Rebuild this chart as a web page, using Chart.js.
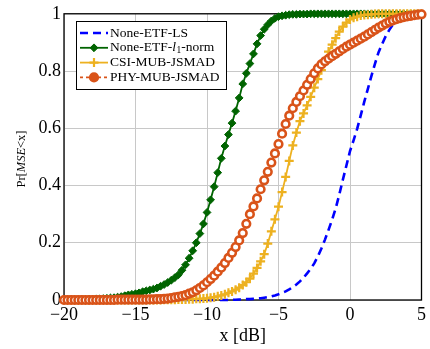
<!DOCTYPE html>
<html>
<head>
<meta charset="utf-8">
<script src="https://cdn.jsdelivr.net/npm/chart.js@4.4.1/dist/chart.umd.min.js"></script>
<style>
  html, body { margin: 0; padding: 0; background: #fff; }
  canvas { display: block; }
</style>
</head>
<body>
<canvas id="cdfChart" width="430" height="349"></canvas>
<script>
'use strict'

// x axis samples in dB
var xValues = [
    -20, -19.75, -19.5, -19.25, -19, -18.75, -18.5, -18.25, -18, -17.75,
    -17.5, -17.25, -17, -16.75, -16.5, -16.25, -16, -15.75, -15.5, -15.25,
    -15, -14.75, -14.5, -14.25, -14, -13.75, -13.5, -13.25, -13, -12.75,
    -12.5, -12.25, -12, -11.75, -11.5, -11.25, -11, -10.75, -10.5, -10.25,
    -10, -9.75, -9.5, -9.25, -9, -8.75, -8.5, -8.25, -8, -7.75,
    -7.5, -7.25, -7, -6.75, -6.5, -6.25, -6, -5.75, -5.5, -5.25,
    -5, -4.75, -4.5, -4.25, -4, -3.75, -3.5, -3.25, -3, -2.75,
    -2.5, -2.25, -2, -1.75, -1.5, -1.25, -1, -0.75, -0.5, -0.25,
    0, 0.25, 0.5, 0.75, 1, 1.25, 1.5, 1.75, 2, 2.25,
    2.5, 2.75, 3, 3.25, 3.5, 3.75, 4, 4.25, 4.5, 4.75,
    5
];

// None-ETF-LS
var lsValues = [
    0, 0, 0, 0, 0, 0, 0, 0, 0, 0,
    0, 0, 0, 0, 0, 0, 0, 0, 0, 0,
    0, 0, 0, 0, 0, 0, 0, 0, 0, 0,
    0, 0, 0, 0, 0, 0, 0, 0, 0, 0,
    0, 0, 0, 0, 0, 0, 0, 0.001, 0.001, 0.002,
    0.002, 0.003, 0.003, 0.004, 0.005, 0.006, 0.008, 0.010, 0.013, 0.016,
    0.020, 0.025, 0.030, 0.037, 0.045, 0.054, 0.065, 0.078, 0.093, 0.109,
    0.128, 0.152, 0.180, 0.211, 0.245, 0.281, 0.320, 0.368, 0.420, 0.470,
    0.520, 0.558, 0.598, 0.645, 0.693, 0.738, 0.783, 0.826, 0.866, 0.895,
    0.922, 0.944, 0.962, 0.975, 0.985, 0.991, 0.995, 0.997, 0.999, 1,
    1
];

// None-ETF-l1-norm
var l1Values = [
    0, 0, 0.001, 0.001, 0.001, 0.002, 0.002, 0.003, 0.003, 0.004,
    0.004, 0.005, 0.006, 0.007, 0.008, 0.010, 0.012, 0.015, 0.018, 0.020,
    0.022, 0.025, 0.029, 0.032, 0.035, 0.038, 0.042, 0.048, 0.054, 0.061,
    0.069, 0.078, 0.088, 0.104, 0.123, 0.146, 0.172, 0.200, 0.232, 0.266,
    0.306, 0.350, 0.396, 0.445, 0.495, 0.538, 0.578, 0.618, 0.660, 0.706,
    0.755, 0.792, 0.826, 0.860, 0.895, 0.924, 0.946, 0.962, 0.975, 0.984,
    0.990, 0.993, 0.995, 0.997, 0.998, 0.998, 0.999, 0.999, 0.999, 1,
    1, 1, 1, 1, 1, 1, 1, 1, 1, 1,
    1, 1, 1, 1, 1, 1, 1, 1, 1, 1,
    1, 1, 1, 1, 1, 1, 1, 1, 1, 1,
    1
];

// CSI-MUB-JSMAD
var csiValues = [
    0, 0, 0, 0, 0, 0, 0, 0, 0, 0,
    0, 0, 0, 0, 0, 0, 0, 0, 0, 0,
    0, 0, 0, 0, 0, 0, 0, 0, 0.001, 0.001,
    0.001, 0.001, 0.002, 0.002, 0.002, 0.003, 0.003, 0.004, 0.004, 0.005,
    0.006, 0.008, 0.010, 0.013, 0.016, 0.020, 0.025, 0.030, 0.036, 0.043,
    0.052, 0.062, 0.075, 0.092, 0.112, 0.135, 0.160, 0.197, 0.240, 0.282,
    0.326, 0.377, 0.430, 0.486, 0.540, 0.585, 0.625, 0.652, 0.680, 0.710,
    0.742, 0.772, 0.803, 0.838, 0.868, 0.892, 0.915, 0.938, 0.955, 0.969,
    0.980, 0.986, 0.990, 0.994, 0.996, 0.997, 0.998, 0.999, 1, 1,
    1, 1, 1, 1, 1, 1, 1, 1, 1, 1,
    1
];

// PHY-MUB-JSMAD
var phyValues = [
    0, 0, 0, 0, 0, 0, 0, 0, 0, 0,
    0, 0, 0, 0, 0, 0.001, 0.001, 0.001, 0.001, 0.001,
    0.001, 0.001, 0.001, 0.001, 0.002, 0.002, 0.003, 0.003, 0.004, 0.005,
    0.007, 0.009, 0.011, 0.014, 0.017, 0.022, 0.027, 0.034, 0.042, 0.051,
    0.062, 0.073, 0.085, 0.099, 0.113, 0.129, 0.147, 0.165, 0.185, 0.208,
    0.234, 0.266, 0.300, 0.327, 0.355, 0.387, 0.418, 0.448, 0.480, 0.512,
    0.545, 0.581, 0.615, 0.644, 0.670, 0.692, 0.712, 0.732, 0.752, 0.772,
    0.792, 0.809, 0.823, 0.834, 0.843, 0.852, 0.860, 0.869, 0.877, 0.885,
    0.892, 0.899, 0.906, 0.913, 0.920, 0.928, 0.936, 0.944, 0.952, 0.959,
    0.966, 0.972, 0.977, 0.981, 0.985, 0.988, 0.991, 0.993, 0.995, 0.997,
    0.998
];

var seriesLabels = ['None-ETF-LS', 'None-ETF-l1-norm', 'CSI-MUB-JSMAD', 'PHY-MUB-JSMAD'];
var xTicks = [-20, -15, -10, -5, 0, 5];
var yTicks = [0, 0.2, 0.4, 0.6, 0.8, 1];

var serif = "'Liberation Serif', 'DejaVu Serif', serif";

function toPoints(ys) {
    return xValues.map(function (x, i) {
        return {x: x, y: ys[i]};
    });
}

// black box round the plot area
var frame = {
    id: 'frame',
    beforeDatasetsDraw: function (chart) {
        var a = chart.chartArea;
        var ctx = chart.ctx;
        ctx.save();
        ctx.strokeStyle = '#000';
        ctx.lineWidth = 1.3;
        ctx.strokeRect(a.left, a.top, a.right - a.left, a.bottom - a.top);
        ctx.restore();
    }
};

// y title with italic MSE
var yTitle = {
    id: 'yTitle',
    afterDraw: function (chart) {
        var ctx = chart.ctx;
        var parts = [['Pr[', ''], ['MSE', 'italic '], ['<x]', '']];
        var size = 12.5;
        ctx.save();
        ctx.translate(22, 159);
        ctx.rotate(-Math.PI / 2);
        ctx.fillStyle = '#000';
        ctx.textBaseline = 'middle';
        var total = 0;
        parts.forEach(function (p) {
            ctx.font = p[1] + size + 'px ' + serif;
            total += ctx.measureText(p[0]).width;
        });
        var x = -total / 2;
        parts.forEach(function (p) {
            ctx.font = p[1] + size + 'px ' + serif;
            ctx.fillText(p[0], x, 0);
            x += ctx.measureText(p[0]).width;
        });
        ctx.restore();
    }
};

function drawLegendText(ctx, text, x, y) {
    var size = 13.5;
    var m = text.match(/^(.*-)l1(-.*)$/);
    ctx.font = size + 'px ' + serif;
    if (!m) {
        ctx.fillText(text, x, y);
        return;
    }
    ctx.fillText(m[1], x, y);
    x += ctx.measureText(m[1]).width;
    ctx.font = 'italic ' + size + 'px ' + serif;
    ctx.fillText('l', x, y);
    x += ctx.measureText('l').width + 0.5;
    ctx.font = (size * 0.7) + 'px ' + serif;
    ctx.fillText('1', x, y + 3);
    x += ctx.measureText('1').width;
    ctx.font = size + 'px ' + serif;
    ctx.fillText(m[2], x, y);
}

// legend box in the upper left corner
var legendBox = {
    id: 'legendBox',
    afterDraw: function (chart) {
        var ctx = chart.ctx;
        var left = 76.5, top = 21.5, w = 150, h = 68;
        ctx.save();
        ctx.fillStyle = '#fff';
        ctx.fillRect(left, top, w, h);
        ctx.strokeStyle = '#000';
        ctx.lineWidth = 1;
        ctx.strokeRect(left, top, w, h);
        chart.data.datasets.forEach(function (ds, i) {
            var y = 33 + i * 14.8;
            ctx.setLineDash(ds.borderDash || []);
            ctx.strokeStyle = ds.borderColor;
            ctx.lineWidth = ds.borderWidth;
            ctx.beginPath();
            ctx.moveTo(80, y);
            ctx.lineTo(108, y);
            ctx.stroke();
            ctx.setLineDash([]);
            if (ds.pointRadius > 0) {
                ctx.fillStyle = ds.borderColor;
                ctx.strokeStyle = ds.borderColor;
                ctx.lineWidth = ds.pointBorderWidth;
                Chart.helpers.drawPoint(ctx, {
                    pointStyle: ds.pointStyle,
                    radius: ds.pointRadius,
                    borderWidth: ds.pointBorderWidth,
                    rotation: 0
                }, 94, y);
            }
            ctx.fillStyle = '#000';
            ctx.textBaseline = 'middle';
            ctx.textAlign = 'left';
            drawLegendText(ctx, ds.label, 110, y);
        });
        ctx.restore();
    }
};

var datasets = [{
    label: seriesLabels[0],
    data: toPoints(lsValues),
    borderColor: '#0000ff',
    borderWidth: 2.6,
    borderDash: [8, 5],
    pointRadius: 0,
    order: 3
}, {
    label: seriesLabels[1],
    data: toPoints(l1Values),
    borderColor: '#006400',
    backgroundColor: '#006400',
    borderWidth: 1.8,
    pointStyle: 'rectRot',
    pointRadius: 3.9,
    pointBorderWidth: 1,
    pointBackgroundColor: '#006400',
    order: 2
}, {
    label: seriesLabels[2],
    data: toPoints(csiValues),
    borderColor: '#EDB120',
    backgroundColor: '#EDB120',
    borderWidth: 1.8,
    pointStyle: 'cross',
    pointRadius: 4.5,
    pointBorderWidth: 2.2,
    order: 1
}, {
    label: seriesLabels[3],
    data: toPoints(phyValues),
    borderColor: '#D95319',
    backgroundColor: '#D95319',
    borderWidth: 1.8,
    borderDash: [3, 3],
    pointStyle: 'circle',
    pointRadius: 3.8,
    pointBorderWidth: 2.6,
    pointBackgroundColor: '#ffffff',
    order: 0
}];

var cdfChart = new Chart(document.getElementById('cdfChart'), {
    type: 'line',
    data: {datasets: datasets},
    plugins: [frame, yTitle, legendBox],
    options: {
        responsive: false,
        animation: false,
        layout: {
            padding: {left: 0, right: 4, top: 12, bottom: 0}
        },
        datasets: {
            line: {clip: false, tension: 0, fill: false}
        },
        plugins: {
            legend: {display: false},
            tooltip: {enabled: false}
        },
        scales: {
            x: {
                type: 'linear',
                min: -20,
                max: 5,
                afterBuildTicks: function (axis) {
                    axis.ticks = xTicks.map(function (v) { return {value: v}; });
                },
                afterFit: function (axis) { axis.height = 49; },
                grid: {color: '#c8c8c8', lineWidth: 1, drawTicks: false},
                border: {display: false},
                ticks: {
                    color: '#000',
                    padding: 4,
                    maxRotation: 0,
                    font: {family: serif, size: 18},
                    callback: function (v) { return String(v).replace('-', '\u2212'); }
                },
                title: {
                    display: true,
                    text: 'x [dB]',
                    color: '#000',
                    font: {family: serif, size: 18},
                    padding: {top: 0, bottom: 2}
                }
            },
            y: {
                type: 'linear',
                min: 0,
                max: 1,
                afterBuildTicks: function (axis) {
                    axis.ticks = yTicks.map(function (v) { return {value: v}; });
                },
                afterFit: function (axis) { axis.width = 64; },
                grid: {color: '#c8c8c8', lineWidth: 1, drawTicks: false},
                border: {display: false},
                ticks: {
                    color: '#000',
                    padding: 3,
                    font: {family: serif, size: 18},
                    callback: function (v) { return String(v); }
                }
            }
        }
    }
});
</script>
</body>
</html>
